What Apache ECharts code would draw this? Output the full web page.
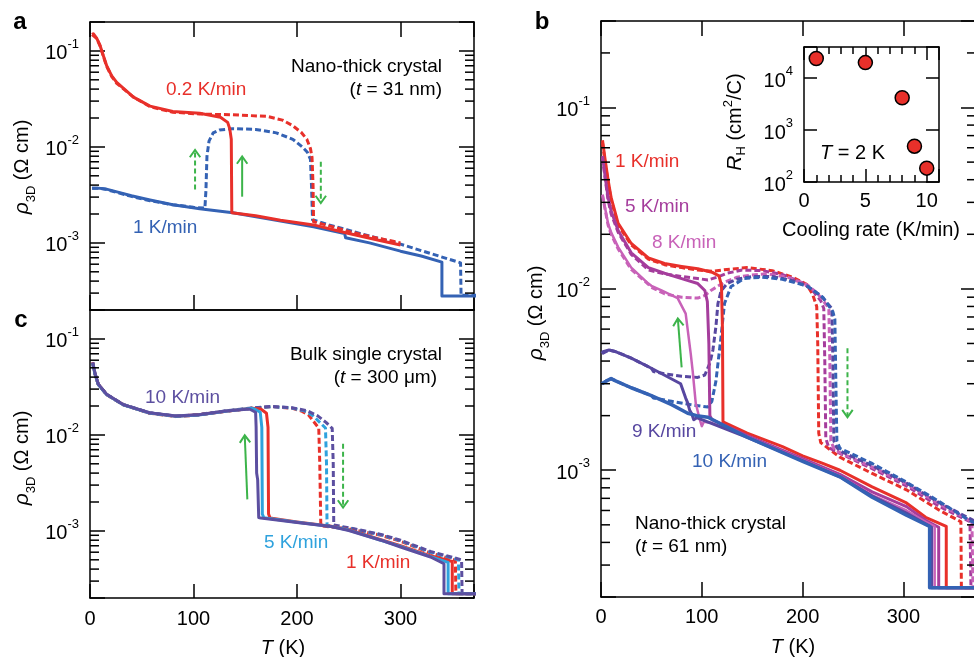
<!DOCTYPE html>
<html>
<head>
<meta charset="utf-8">
<script src="https://cdn.jsdelivr.net/npm/echarts@6.0.0/dist/echarts.min.js"></script>
<style>
  html, body { margin: 0; padding: 0; background: #fff; }
  #chart { width: 974px; height: 657px; }
</style>
</head>
<body>
<div id="chart"></div>
<script>
// colours
const RED = '#e8302a', BLUE = '#3462b4', CYAN = '#2fa2dd', PURPLE = '#5c4fa0';
const MAGENTA = '#a53d9c', PINK = '#c862b8', INDIGO = '#5747a0', GREEN = '#3cb44a';
const FONT = "'Liberation Sans', Arial, sans-serif";

// ---- panel a : nano-thick crystal, t = 31 nm  ([T (K), rho (Ohm cm)])
const aRedCool = [[300, 9.5e-4], [280, 1.06e-3], [248, 1.27e-3], [216, 1.54e-3], [184, 1.72e-3], [183, 1.78e-3],
  [160, 1.92e-3], [137, 2.06e-3], [136.5, 1.2e-2], [135, 1.55e-2], [133, 1.8e-2], [126, 2.04e-2], [106, 2.24e-2],
  [80, 2.34e-2], [58, 2.66e-2], [42, 3.3e-2], [25.8, 4.7e-2], [21, 5.5e-2], [16.1, 7.0e-2], [12.9, 8.9e-2],
  [9.7, 0.114], [6.4, 0.136], [3.2, 0.151], [2, 0.148]];
const aRedHeat = [[2, 0.148], [3.2, 0.151], [6.4, 0.135], [9.7, 0.113], [12.9, 0.088], [16.1, 0.069], [21, 0.054],
  [25.8, 0.046], [42, 0.033], [58, 0.0262], [80, 0.023], [106, 0.022], [138, 0.0216], [171, 0.0208], [186, 0.019],
  [196, 0.0166], [204, 0.0142], [209.5, 0.012], [213, 0.0096], [214.5, 0.0078], [215.5, 0.004], [216, 1.66e-3],
  [235, 1.47e-3], [248, 1.33e-3], [270, 1.17e-3], [300, 1.0e-3]];
const aBlueCool = [[375, 2.8e-4], [340, 2.8e-4], [340, 6.3e-4], [320, 7.3e-4], [300, 8.2e-4], [270, 1.0e-3],
  [247, 1.13e-3], [246, 1.25e-3], [216, 1.47e-3], [180, 1.72e-3], [138, 2.06e-3], [106, 2.27e-3], [80, 2.5e-3],
  [58, 2.8e-3], [40, 3.1e-3], [26, 3.4e-3], [15, 3.65e-3], [8, 3.72e-3], [2, 3.7e-3]];
const aBlueHeat = [[2, 3.7e-3], [8, 3.72e-3], [15, 3.62e-3], [26, 3.35e-3], [40, 3.05e-3], [58, 2.75e-3],
  [80, 2.5e-3], [100, 2.35e-3], [111, 2.3e-3], [112, 3.5e-3], [113, 8e-3], [115, 0.0115], [119, 0.014],
  [125, 0.015], [138, 0.0155], [160, 0.0152], [180, 0.014], [196, 0.012], [205, 0.010], [210, 0.0088],
  [213, 0.0074], [214, 0.004], [215, 1.74e-3], [230, 1.55e-3], [248, 1.37e-3], [270, 1.18e-3], [300, 9.7e-4],
  [330, 7.7e-4], [358, 6.2e-4], [358.5, 2.85e-4], [375, 2.85e-4]];

// ---- panel c : bulk single crystal, t = 300 um
const cRedCool = [[375, 2.22e-4], [350, 2.22e-4], [350, 4.8e-4], [329, 5.5e-4], [300, 7.0e-4], [281, 8.1e-4],
  [250, 1.03e-3], [233, 1.12e-3], [200, 1.24e-3], [174, 1.36e-3], [172.5, 1.5e-3], [172, 0.012], [170.5, 0.0168],
  [165, 0.0186], [156.5, 0.019], [131, 0.0176], [105, 0.0162], [83, 0.0156], [57.5, 0.0169], [32, 0.0207],
  [16, 0.0264], [8, 0.0337], [4.8, 0.043], [2.6, 0.057]];
const cCyanCool = [[375, 2.22e-4], [346, 2.22e-4], [346, 4.7e-4], [329, 5.4e-4], [300, 6.9e-4], [281, 8.0e-4],
  [250, 1.02e-3], [233, 1.11e-3], [200, 1.23e-3], [168, 1.37e-3], [166.5, 1.5e-3], [166, 0.012], [164.5, 0.0172],
  [159, 0.0186], [156.5, 0.0189], [131, 0.0176], [105, 0.0161], [83, 0.0156], [57.5, 0.0169], [32, 0.0206],
  [16, 0.0263], [8, 0.0335], [4.8, 0.043], [2.6, 0.056]];
const cPurpleCool = [[375, 2.22e-4], [342, 2.22e-4], [342, 4.55e-4], [329, 5.35e-4], [300, 6.8e-4], [281, 8.0e-4],
  [250, 1.01e-3], [233, 1.11e-3], [200, 1.22e-3], [165, 1.36e-3], [163, 1.38e-3], [162, 3.4e-3], [161, 4.0e-3],
  [160.5, 0.012], [160, 0.0172], [154, 0.0186], [131, 0.0177], [105, 0.0162], [83, 0.0157], [57.5, 0.017],
  [32, 0.0207], [16, 0.0265], [8, 0.0338], [4.8, 0.044], [2.6, 0.057]];
const cRedHeat = [[2.6, 0.056], [4.8, 0.043], [8, 0.0335], [16, 0.0263], [32, 0.0206], [57.5, 0.0168], [83, 0.0155],
  [105, 0.0161], [131, 0.0176], [156.5, 0.019], [175, 0.0197], [195, 0.019], [205, 0.0176], [211, 0.0162],
  [216, 0.0138], [221, 0.0118], [222, 0.005], [223, 1.13e-3], [250, 1.05e-3], [281, 9.0e-4], [300, 7.8e-4],
  [329, 5.9e-4], [353, 4.95e-4], [353.5, 2.22e-4], [375, 2.22e-4]];
const cCyanHeat = [[2.6, 0.056], [4.8, 0.043], [8, 0.0336], [16, 0.0264], [32, 0.0207], [57.5, 0.0169], [83, 0.0156],
  [105, 0.0162], [131, 0.0177], [156.5, 0.019], [175, 0.0197], [195, 0.0191], [207, 0.0178], [215, 0.016],
  [222, 0.0135], [227.5, 0.0118], [228.5, 0.005], [229, 1.14e-3], [250, 1.07e-3], [281, 9.1e-4], [300, 7.9e-4],
  [329, 6.0e-4], [356, 5.0e-4], [356.5, 2.22e-4], [375, 2.22e-4]];
const cPurpleHeat = [[2.6, 0.057], [4.8, 0.044], [8, 0.0338], [16, 0.0265], [32, 0.0208], [57.5, 0.017], [83, 0.0157],
  [105, 0.0163], [131, 0.0178], [156.5, 0.0191], [175, 0.0198], [195, 0.0192], [210, 0.0178], [220, 0.0158],
  [228, 0.0135], [234, 0.0117], [235, 0.005], [235.5, 1.15e-3], [250, 1.08e-3], [281, 9.2e-4], [300, 8.0e-4],
  [329, 6.1e-4], [359, 5.0e-4], [359.5, 2.22e-4], [375, 2.22e-4]];

// ---- panel b : nano-thick crystal, t = 61 nm
const b1Cool = [[375, 2.25e-4], [342.5, 2.25e-4], [342.5, 4.9e-4], [322, 5.5e-4], [303, 6.6e-4], [269, 8.1e-4],
  [237, 1.0e-3], [220, 1.09e-3], [200, 1.2e-3], [180, 1.35e-3], [145, 1.6e-3], [121, 1.85e-3], [120.5, 6e-3],
  [119.5, 0.0105], [117, 0.0118], [111, 0.0123], [96, 0.0129], [80, 0.0133], [63, 0.0138], [47, 0.0148],
  [30, 0.0178], [17, 0.023], [10, 0.032], [7, 0.040], [4, 0.052], [1.5, 0.066]];
const b1Heat = [[1.5, 0.064], [4, 0.050], [7, 0.039], [10, 0.031], [17, 0.0225], [30, 0.0175], [47, 0.0146],
  [63, 0.0136], [80, 0.0131], [96, 0.0127], [111, 0.0125], [125, 0.0128], [145, 0.0131], [170, 0.0126],
  [190, 0.0116], [204, 0.0106], [210, 0.0093], [214, 0.008], [215, 0.005], [216, 1.6e-3], [218, 1.42e-3],
  [237, 1.18e-3], [269, 9.6e-4], [303, 7.8e-4], [336, 6.0e-4], [357, 5.2e-4], [357.5, 2.25e-4], [375, 2.25e-4]];
const b5Cool = [[375, 2.25e-4], [335, 2.25e-4], [335, 4.85e-4], [322, 5.3e-4], [303, 6.3e-4], [269, 7.6e-4],
  [237, 9.5e-4], [200, 1.16e-3], [145, 1.55e-3], [110, 1.9e-3], [108, 2.0e-3], [107, 5e-3], [105.5, 8.5e-3],
  [103, 9.8e-3], [96, 0.0107], [80, 0.0114], [63, 0.0122], [47, 0.0131], [30, 0.0158], [17, 0.021], [10, 0.027],
  [7, 0.032], [4, 0.042], [1.5, 0.054]];
const b5Heat = [[1.5, 0.053], [4, 0.041], [7, 0.031], [10, 0.026], [17, 0.0205], [30, 0.0155], [47, 0.0127],
  [63, 0.0121], [80, 0.0117], [96, 0.0114], [106, 0.0112], [115, 0.0116], [125, 0.0122], [140, 0.0127],
  [160, 0.0126], [180, 0.012], [200, 0.0108], [210, 0.0098], [218, 0.0086], [221, 0.0078], [222, 0.004],
  [223, 1.5e-3], [226, 1.33e-3], [237, 1.24e-3], [269, 1.02e-3], [303, 8.2e-4], [336, 6.3e-4], [366, 5.2e-4],
  [367, 2.25e-4], [375, 2.25e-4]];
const b8Cool = [[375, 2.25e-4], [331, 2.25e-4], [331, 4.9e-4], [322, 5.2e-4], [303, 6.0e-4], [269, 7.3e-4],
  [237, 9.3e-4], [200, 1.14e-3], [145, 1.53e-3], [110, 1.82e-3], [102, 1.85e-3], [100, 1.75e-3], [98, 1.9e-3],
  [94, 2.34e-3], [91, 3.5e-3], [89, 4.4e-3], [84, 7.3e-3], [76, 8.9e-3], [60, 9.8e-3], [50, 0.0104],
  [47, 0.0107], [30, 0.0131], [17, 0.017], [10, 0.0205], [7, 0.023], [4, 0.028], [1.5, 0.033]];
const b8Heat = [[1.5, 0.033], [4, 0.0275], [7, 0.0225], [10, 0.020], [17, 0.0166], [30, 0.0128], [47, 0.0106],
  [50, 0.0102], [63, 0.0094], [80, 0.009], [96, 0.0089], [103, 0.0092], [109, 0.0098], [122.5, 0.0109],
  [135, 0.0116], [148, 0.0119], [165, 0.0121], [185, 0.0116], [205, 0.0105], [215, 0.0094], [224, 0.0081],
  [226, 0.0078], [227, 0.004], [228, 1.45e-3], [231, 1.32e-3], [237, 1.25e-3], [269, 1.04e-3], [303, 8.4e-4],
  [336, 6.5e-4], [368, 5.2e-4], [369, 2.25e-4], [375, 2.25e-4]];
const b9Cool = [[375, 2.25e-4], [328, 2.25e-4], [328, 4.85e-4], [303, 5.8e-4], [269, 7.2e-4], [237, 9.2e-4],
  [200, 1.13e-3], [145, 1.52e-3], [100, 1.9e-3], [95, 1.95e-3], [92, 1.9e-3], [90, 2.05e-3], [88, 2.14e-3],
  [86, 2.35e-3], [84, 2.5e-3], [79, 3.0e-3], [65, 3.3e-3], [50, 3.65e-3], [30, 4.15e-3], [15, 4.5e-3],
  [8, 4.6e-3], [2, 4.5e-3], [1, 4.4e-3]];
const b9Heat = [[1, 4.4e-3], [2, 4.5e-3], [8, 4.6e-3], [15, 4.5e-3], [30, 4.15e-3], [50, 3.65e-3], [52, 3.5e-3],
  [63, 3.4e-3], [80, 3.3e-3], [96, 3.25e-3], [103, 3.35e-3], [108, 3.9e-3], [111, 4.6e-3], [114, 6.2e-3],
  [116, 8.3e-3], [119, 9.7e-3], [125, 0.0107], [135, 0.0113], [150, 0.0117], [170, 0.0117], [190, 0.0111],
  [205, 0.0103], [218, 0.0092], [229, 0.0078], [230, 0.004], [231, 1.45e-3], [234, 1.33e-3], [237, 1.28e-3],
  [269, 1.06e-3], [303, 8.5e-4], [336, 6.6e-4], [375, 5.1e-4]];
const b10Cool = [[375, 2.25e-4], [326, 2.25e-4], [326, 4.9e-4], [303, 5.65e-4], [269, 7.1e-4], [237, 9.2e-4],
  [200, 1.12e-3], [145, 1.52e-3], [106, 1.96e-3], [95, 2.0e-3], [86, 2.06e-3], [70, 2.3e-3], [50, 2.58e-3],
  [30, 2.85e-3], [15, 3.1e-3], [10, 3.2e-3], [5, 3.1e-3], [1, 3.0e-3]];
const b10Heat = [[1, 3.0e-3], [5, 3.1e-3], [10, 3.2e-3], [15, 3.1e-3], [30, 2.85e-3], [50, 2.58e-3], [52, 2.5e-3],
  [70, 2.4e-3], [89, 2.3e-3], [106, 2.23e-3], [110, 2.4e-3], [114, 3.1e-3], [119, 5.4e-3], [122.5, 8.3e-3],
  [129, 0.0103], [142, 0.0114], [160, 0.0116], [180, 0.0113], [204, 0.0104], [220, 0.009], [230, 0.0075],
  [232, 0.0068], [233, 0.003], [234, 1.45e-3], [237, 1.32e-3], [269, 1.09e-3], [303, 8.6e-4], [336, 6.7e-4],
  [365, 5.3e-4], [375, 5.0e-4]];

// ---- inset : Hall coefficient at T = 2 K
const coolingRate = [1, 5, 8, 9, 10];
const hallCoef = [2.4e4, 2.0e4, 4.2e3, 490, 185];

// ---- green arrows [T1, rho1, T2, rho2, dashed]
const arrowsA = [[101.5, 3.6e-3, 101.5, 9.3e-3, 1], [147, 3.03e-3, 147, 7.95e-3, 0], [223, 7.0e-3, 223, 2.6e-3, 1]];
const arrowsC = [[152, 2.13e-3, 149.5, 9.9e-3, 0], [244.5, 8.1e-3, 244.5, 1.75e-3, 1]];
const arrowsB = [[80, 3.69e-3, 76.2, 6.87e-3, 0], [244.5, 4.7e-3, 244.5, 1.96e-3, 1]];

// ---- axis tick values
const mantissas = [2, 3, 4, 5, 6, 7, 8, 9];
const decades = [1e-4, 1e-3, 1e-2, 1e-1];
const T_MAX_AC = 371, T_MAX_B = 372;

function minorList(lo, hi) {
  const out = [];
  decades.forEach(d => mantissas.forEach(m => { const v = m * d; if (v > lo * 1.001 && v < hi * 0.999) out.push(v); }));
  return out;
}

function powLabel(v) {
  const e = Math.log10(v);
  if (Math.abs(e - Math.round(e)) > 1e-6) return '';
  return '{b|10}{s|' + Math.round(e) + '}';
}
const powRich = {
  b: { fontSize: 20, fontFamily: FONT, lineHeight: 26, verticalAlign: 'bottom', color: '#000' },
  s: { fontSize: 13, fontFamily: FONT, lineHeight: 10, verticalAlign: 'top', color: '#000' }
};
const frame = { show: true, onZero: false, lineStyle: { color: '#000', width: 1.5 } };
const tick = (len) => ({ show: true, inside: true, length: len, lineStyle: { color: '#000', width: 1.5 } });

function xAx(grid, pos, max, interval, opts) {
  return Object.assign({
    type: 'value', gridIndex: grid, position: pos, min: 0, max: max, interval: interval,
    axisLine: frame, axisTick: tick(15), axisLabel: { show: false }, splitLine: { show: false }
  }, opts || {});
}
function yAx(grid, pos, min, max, labels, tickLen) {
  return {
    type: 'log', gridIndex: grid, position: pos, min: min, max: max,
    axisLine: frame, axisTick: tick(tickLen || 15), splitLine: { show: false },
    axisLabel: labels ? { show: true, margin: 11, formatter: powLabel, rich: powRich } : { show: false }
  };
}

function line(data, color, dashed, ax, width) {
  return {
    type: 'line', data: data, xAxisIndex: ax, yAxisIndex: ax, showSymbol: false, symbol: 'none',
    silent: true, animation: false, clip: true,
    lineStyle: { color: color, width: width || 3, type: dashed ? [6, 3] : 'solid', join: 'round' }
  };
}

function arrows(ax, list) {
  return {
    type: 'custom', xAxisIndex: ax, yAxisIndex: ax, silent: true, animation: false, z: 6,
    data: list,
    renderItem: (params, api) => {
      const p1 = api.coord([api.value(0), api.value(1)]);
      const p2 = api.coord([api.value(2), api.value(3)]);
      const dashed = api.value(4) === 1;
      const dx = p2[0] - p1[0], dy = p2[1] - p1[1], n = Math.hypot(dx, dy);
      const ux = dx / n, uy = dy / n, L = 9, c = Math.cos(0.62), s = Math.sin(0.62);
      const a1 = [p2[0] - L * (ux * c - uy * s), p2[1] - L * (uy * c + ux * s)];
      const a2 = [p2[0] - L * (ux * c + uy * s), p2[1] - L * (uy * c - ux * s)];
      return { type: 'group', children: [
        { type: 'line', shape: { x1: p1[0], y1: p1[1], x2: p2[0] - ux, y2: p2[1] - uy },
          style: { stroke: GREEN, lineWidth: 2, lineDash: dashed ? [5, 3] : null } },
        { type: 'polyline', shape: { points: [a1, p2, a2] }, style: { stroke: GREEN, lineWidth: 2, fill: null } }
      ] };
    }
  };
}

function txt(x, y, text, color, align, size, extra) {
  return { type: 'text', x: x, y: y, silent: true, z: 20,
    style: Object.assign({ text: text, fill: color || '#000', fontSize: size || 19, fontFamily: FONT,
      align: align || 'left', verticalAlign: 'middle' }, extra || {}) };
}
const italRich = { i: { fontStyle: 'italic', fontSize: 19, fontFamily: FONT, fill: '#000' } };
const rhoRich = {
  r: { fontSize: 21, fontStyle: 'italic', fontFamily: FONT, lineHeight: 26, verticalAlign: 'top', fill: '#000' },
  s: { fontSize: 13, fontFamily: FONT, lineHeight: 16, verticalAlign: 'bottom', fill: '#000' },
  n: { fontSize: 20, fontFamily: FONT, lineHeight: 26, verticalAlign: 'top', fill: '#000' }
};
const rhoText = '{r|ρ}{s|3D}{n| (Ω cm)}';
const tRich = { i: { fontStyle: 'italic', fontSize: 20, fontFamily: FONT, fill: '#000' },
  n: { fontSize: 20, fontFamily: FONT, fill: '#000' } };
const rhRich = {
  r: { fontSize: 21, fontStyle: 'italic', fontFamily: FONT, lineHeight: 26, verticalAlign: 'middle', fill: '#000' },
  h: { fontSize: 13, fontFamily: FONT, lineHeight: 14, verticalAlign: 'bottom', fill: '#000' },
  n: { fontSize: 20, fontFamily: FONT, lineHeight: 26, verticalAlign: 'middle', fill: '#000' },
  p: { fontSize: 13, fontFamily: FONT, lineHeight: 12, verticalAlign: 'top', fill: '#000' }
};

const chart = echarts.init(document.getElementById('chart'), null, { renderer: 'canvas' });

const gridBase = { containLabel: false, outerBoundsMode: 'none' };
const option = {
  animation: false,
  backgroundColor: '#fff',
  textStyle: { fontFamily: FONT },
  grid: [
    Object.assign({ left: 90, top: 22, width: 384, height: 288 }, gridBase),   // a
    Object.assign({ left: 90, top: 310, width: 384, height: 288 }, gridBase),  // c
    Object.assign({ left: 601, top: 21, width: 375, height: 576 }, gridBase),  // b
    Object.assign({ left: 804, top: 47, width: 135, height: 135 }, gridBase)   // inset
  ],
  xAxis: [
    xAx(0, 'bottom', T_MAX_AC, 100),
    xAx(0, 'top', T_MAX_AC, 100),
    xAx(1, 'bottom', T_MAX_AC, 100, { axisTick: tick(14), axisLabel: { show: true, margin: 11, fontSize: 20, color: '#000',
      fontFamily: FONT, formatter: v => (v % 100 === 0 ? String(v) : '') } }),
    xAx(1, 'top', T_MAX_AC, 100, { axisTick: { show: false } }),
    xAx(2, 'bottom', T_MAX_B, 100, { axisLabel: { show: true, margin: 10, fontSize: 20, color: '#000',
      fontFamily: FONT, formatter: v => (v % 100 === 0 ? String(v) : '') } }),
    xAx(2, 'top', T_MAX_B, 100),
    xAx(3, 'bottom', 11, 5, { axisTick: tick(13), axisLabel: { show: true, margin: 9, fontSize: 20, color: '#000',
      fontFamily: FONT, formatter: v => (v % 5 === 0 ? String(v) : '') } }),
    xAx(3, 'bottom', 11, 1, { axisTick: tick(7), axisLine: { show: false } }),
    xAx(3, 'top', 11, 5, { axisTick: tick(13) }),
    xAx(3, 'top', 11, 1, { axisTick: tick(7), axisLine: { show: false } })
  ],
  yAxis: [
    yAx(0, 'left', 2e-4, 0.2, true),
    yAx(0, 'right', 2e-4, 0.2, false),
    yAx(1, 'left', 2e-4, 0.2, true),
    yAx(1, 'right', 2e-4, 0.2, false),
    yAx(2, 'left', 2e-4, 0.3, true),
    yAx(2, 'right', 2e-4, 0.3, false),
    yAx(3, 'left', 100, 4e4, true, 13),
    yAx(3, 'right', 100, 4e4, false, 13)
  ],
  series: [
    // a (axes 0)
    line(aBlueCool, BLUE, false, 0),
    line(aBlueHeat, BLUE, true, 0),
    line(aRedHeat, RED, true, 0),
    line(aRedCool, RED, false, 0),
    arrows(0, arrowsA),
    // c (axes 2)
    line(cRedHeat, RED, true, 2),
    line(cCyanHeat, CYAN, true, 2),
    line(cPurpleHeat, PURPLE, true, 2),
    line(cRedCool, RED, false, 2),
    line(cCyanCool, CYAN, false, 2),
    line(cPurpleCool, PURPLE, false, 2),
    arrows(2, arrowsC),
    // b (axes 4)
    line(b1Heat, RED, true, 4),
    line(b5Heat, MAGENTA, true, 4),
    line(b8Heat, PINK, true, 4),
    line(b9Heat, INDIGO, true, 4),
    line(b10Heat, BLUE, true, 4),
    line(b1Cool, RED, false, 4),
    line(b5Cool, MAGENTA, false, 4),
    line(b8Cool, PINK, false, 4, 2.5),
    line(b9Cool, INDIGO, false, 4),
    line(b10Cool, BLUE, false, 4, 3.5),
    arrows(4, arrowsB),
    // inset (x axis 6, y axis 6)
    {
      type: 'scatter', xAxisIndex: 6, yAxisIndex: 6, silent: true, animation: false, symbolSize: 14, z: 8,
      data: coolingRate.map((r, i) => [r, hallCoef[i]]),
      itemStyle: { color: RED, borderColor: '#000', borderWidth: 1.5, opacity: 1 }
    }
  ],
  graphic: [
    // panel letters
    txt(20, 22, 'a', '#000', 'center', 24, { fontWeight: 'bold' }),
    txt(542, 22, 'b', '#000', 'center', 24, { fontWeight: 'bold' }),
    txt(21, 320, 'c', '#000', 'center', 24, { fontWeight: 'bold' }),
    // panel a
    txt(442, 67, 'Nano-thick crystal', '#000', 'right'),
    txt(442, 90, '({i|t} = 31 nm)', '#000', 'right', 19, { rich: italRich }),
    txt(166, 90, '0.2 K/min', RED, 'left'),
    txt(133, 228, '1 K/min', BLUE, 'left'),
    txt(25, 167, rhoText, '#000', 'center', 20, { rich: rhoRich }),
    // panel c
    txt(442, 355, 'Bulk single crystal', '#000', 'right'),
    txt(437, 378, '({i|t} = 300 μm)', '#000', 'right', 19, { rich: italRich }),
    txt(145, 398, '10 K/min', PURPLE, 'left'),
    txt(264, 543, '5 K/min', CYAN, 'left'),
    txt(346, 563, '1 K/min', RED, 'left'),
    txt(25, 458, rhoText, '#000', 'center', 20, { rich: rhoRich }),
    txt(283, 648, '{i|T}{n| (K)}', '#000', 'center', 20, { rich: tRich }),
    // panel b
    txt(615, 162, '1 K/min', RED, 'left'),
    txt(625, 207, '5 K/min', MAGENTA, 'left'),
    txt(652, 243, '8 K/min', PINK, 'left'),
    txt(632, 432, '9 K/min', INDIGO, 'left'),
    txt(692, 462, '10 K/min', BLUE, 'left'),
    txt(635, 524, 'Nano-thick crystal', '#000', 'left'),
    txt(635, 547, '({i|t} = 61 nm)', '#000', 'left', 19, { rich: italRich }),
    txt(539, 313, rhoText, '#000', 'center', 20, { rich: rhoRich }),
    txt(793, 647, '{i|T}{n| (K)}', '#000', 'center', 20, { rich: tRich }),
    // inset
    txt(820, 153, '{i|T} = 2 K', '#000', 'left', 20, { rich: tRich }),
    txt(871, 230, 'Cooling rate (K/min)', '#000', 'center', 20),
    txt(735, 122, '{r|R}{h|H}{n| (cm}{p|2}{n|/C)}', '#000', 'center', 20, { rich: rhRich })
  ]
};
// rotate the vertical axis titles
option.graphic.forEach(g => {
  if (g.style.text === rhoText || g.style.text.indexOf('{r|R}') === 0) g.rotation = Math.PI / 2;
});
chart.setOption(option);

// minor ticks of the log axes (2..9 x 10^n), placed through the axes' own scales
function minorTicks(xi, yi, xLo, xHi, values, len) {
  const out = [];
  values.forEach(v => {
    const l = chart.convertToPixel({ xAxisIndex: xi, yAxisIndex: yi }, [xLo, v]);
    const r = chart.convertToPixel({ xAxisIndex: xi, yAxisIndex: yi }, [xHi, v]);
    out.push({ type: 'line', silent: true, z: 10, shape: { x1: l[0], y1: l[1], x2: l[0] + len, y2: l[1] },
      style: { stroke: '#000', lineWidth: 1.5 } });
    out.push({ type: 'line', silent: true, z: 10, shape: { x1: r[0] - len, y1: r[1], x2: r[0], y2: r[1] },
      style: { stroke: '#000', lineWidth: 1.5 } });
  });
  return out;
}
const ticks = [].concat(
  minorTicks(0, 0, 0, T_MAX_AC, minorList(2e-4, 0.2), 9),
  minorTicks(2, 2, 0, T_MAX_AC, minorList(2e-4, 0.2), 9),
  minorTicks(4, 4, 0, T_MAX_B, minorList(2e-4, 0.3), 9)
);
chart.setOption({ graphic: option.graphic.concat(ticks) });
</script>
</body>
</html>
